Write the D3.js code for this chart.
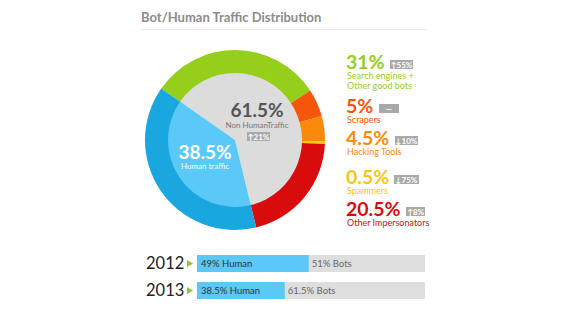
<!DOCTYPE html>
<html>
<head>
<meta charset="utf-8">
<script src="https://cdn.jsdelivr.net/npm/d3@7"></script>
<style>
  body { margin: 0; background: #fff; }
  svg { font-family: Lato, "Open Sans", sans-serif; }
</style>
</head>
<body>
<div id="chart"></div>
<script>
// data
const segments = ["Search engines + Other good bots", "Scrapers", "Hacking Tools", "Spammers", "Other Impersonators", "Human traffic"];
const segmentValues = [31, 5, 4.5, 0.5, 20.5, 38.5];
const segmentColors = ["#95cf1c", "#f5560c", "#fa8a0c", "#f7c614", "#d80c0c", "#1aa7df"];
const innerLabels = ["Non HumanTraffic", "Human traffic"];
const innerValues = [61.5, 38.5];
const innerColors = ["#dcdcdc", "#5bc9f8"];

const legendPct = ["31%", "5%", "4.5%", "0.5%", "20.5%"];
const legendLines = [["Search engines +", "Other good bots"], ["Scrapers"], ["Hacking Tools"], ["Spammers"], ["Other Impersonators"]];
const legendBadges = ["↑55%", "—", "↓10%", "↓75%", "↑8%"];

const years = ["2012", "2013"];
const humanShare = [49, 38.5];
const botShare = [51, 61.5];

const width = 570, height = 322;
const svg = d3.select("#chart").append("svg")
  .attr("width", width)
  .attr("height", height);

// title
svg.append("text")
  .attr("x", 141).attr("y", 22)
  .style("font-size", "13px")
  .style("font-weight", "bold")
  .style("fill", "#8c8c8c")
  .text("Bot/Human Traffic Distribution");

svg.append("line")
  .attr("x1", 141).attr("x2", 427)
  .attr("y1", 29.5).attr("y2", 29.5)
  .attr("stroke", "#ececec");

// donut
const cx = 235, cy = 140, rOuter = 90, rInner = 67;
const start = -55 * Math.PI / 180;
const pie = d3.pie().sort(null).startAngle(start).endAngle(start + 2 * Math.PI);

const g = svg.append("g").attr("transform", `translate(${cx},${cy})`);

g.selectAll("path.ring")
  .data(pie(segmentValues))
  .join("path")
  .attr("class", "ring")
  .attr("d", d3.arc().innerRadius(rInner - 1).outerRadius(rOuter))
  .attr("fill", (d, i) => segmentColors[i]);

g.selectAll("path.inner")
  .data(pie(innerValues))
  .join("path")
  .attr("class", "inner")
  .attr("d", d3.arc().innerRadius(0).outerRadius(rInner))
  .attr("fill", (d, i) => innerColors[i]);

// badge helper
function badge(parent, x, y, w, txt) {
  parent.append("rect")
    .attr("x", x).attr("y", y)
    .attr("width", w).attr("height", 9)
    .attr("fill", "#a9a9a9");
  parent.append("text")
    .attr("x", x + w / 2).attr("y", y + 7.5)
    .attr("text-anchor", "middle")
    .style("font-size", "8px")
    .style("font-weight", "bold")
    .style("fill", "#fff")
    .text(txt);
}

// center labels
svg.append("text")
  .attr("x", 257).attr("y", 117)
  .attr("text-anchor", "middle")
  .style("font-size", "19px").style("font-weight", "bold")
  .style("fill", "#555")
  .text(innerValues[0] + "%");
svg.append("text")
  .attr("x", 257).attr("y", 128)
  .attr("text-anchor", "middle")
  .style("font-size", "8px")
  .style("fill", "#777")
  .text(innerLabels[0]);
badge(svg, 247, 132, 23, "↑21%");

svg.append("text")
  .attr("x", 205).attr("y", 159)
  .attr("text-anchor", "middle")
  .style("font-size", "19px").style("font-weight", "bold")
  .style("fill", "#fff")
  .text(innerValues[1] + "%");
svg.append("text")
  .attr("x", 205).attr("y", 169)
  .attr("text-anchor", "middle")
  .style("font-size", "8px")
  .style("fill", "#fff")
  .text(innerLabels[1]);

// legend
const legendY = [69, 113, 145, 184, 216];
const badgeX = [390, 379, 395, 394, 406];
const badgeW = [23, 20, 23, 25, 19];
const legend = svg.append("g");
legendPct.forEach((p, i) => {
  legend.append("text")
    .attr("x", 346).attr("y", legendY[i])
    .style("font-size", "19.5px").style("font-weight", "bold")
    .style("fill", segmentColors[i])
    .text(p);
  badge(legend, badgeX[i], legendY[i] - 9, badgeW[i], legendBadges[i]);
  legendLines[i].forEach((l, j) => {
    legend.append("text")
      .attr("x", 347).attr("y", legendY[i] + 10 + j * 10)
      .style("font-size", "9px")
      .style("fill", segmentColors[i])
      .text(l);
  });
});

// year bars
const x = d3.scaleLinear().domain([0, 100]).range([197, 425]);
const barY = [255, 282], barH = 17;
years.forEach((yr, i) => {
  svg.append("text")
    .attr("x", 146).attr("y", barY[i] + 14)
    .style("font-size", "16.5px")
    .style("fill", "#222")
    .text(yr);
  svg.append("path")
    .attr("d", d3.symbol(d3.symbolTriangle, 22)())
    .attr("transform", `translate(189,${barY[i] + 8.5}) rotate(90)`)
    .attr("fill", "#8cc63f");
  svg.append("rect")
    .attr("x", x(0)).attr("y", barY[i])
    .attr("width", x(100) - x(0)).attr("height", barH)
    .attr("fill", "#dedede");
  svg.append("rect")
    .attr("x", x(0)).attr("y", barY[i])
    .attr("width", x(humanShare[i]) - x(0)).attr("height", barH)
    .attr("fill", "#5bc8f7");
  svg.append("text")
    .attr("x", x(0) + 4).attr("y", barY[i] + 12)
    .style("font-size", "9.5px")
    .style("fill", "#333")
    .text(humanShare[i] + "% Human");
  svg.append("text")
    .attr("x", x(humanShare[i]) + 3).attr("y", barY[i] + 12)
    .style("font-size", "9.5px")
    .style("fill", "#666")
    .text(botShare[i] + "% Bots");
});
</script>
</body>
</html>
